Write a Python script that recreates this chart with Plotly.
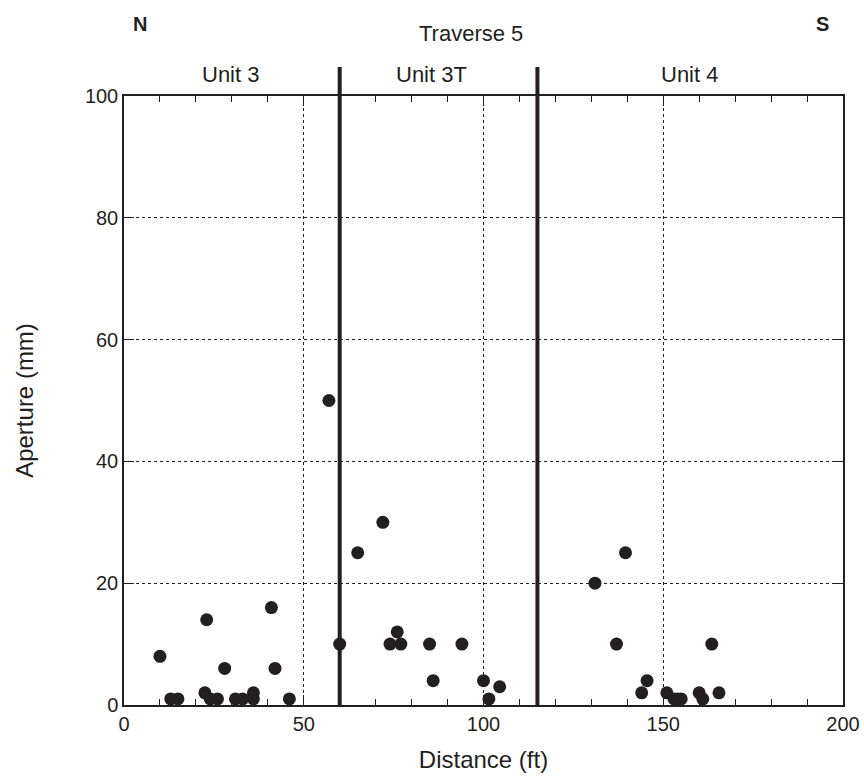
import plotly.graph_objects as go

# Distance along traverse (ft) and fracture aperture (mm)
distance_ft = [10, 13, 15, 22.5, 23, 24, 26, 28, 31, 33, 36, 36, 41, 42, 46, 57,
               60, 65, 72, 74, 76, 77, 85, 86, 94, 100, 101.5, 104.5,
               131, 137, 139.5, 144, 145.5, 151, 153, 154, 155, 160, 161, 163.5, 165.5]
aperture_mm = [8, 1, 1, 2, 14, 1, 1, 6, 1, 1, 2, 1, 16, 6, 1, 50,
               10, 25, 30, 10, 12, 10, 10, 4, 10, 4, 1, 3,
               20, 10, 25, 2, 4, 2, 1, 1, 1, 2, 1, 10, 2]

unit_boundaries_ft = [60, 115]
unit_labels = ["Unit 3", "Unit 3T", "Unit 4"]
unit_label_x = [29.5, 85.4, 157.4]

FONT = "Liberation Sans, Arial, sans-serif"
INK = "#231f20"

fig = go.Figure()
fig.add_trace(go.Scatter(
    x=distance_ft, y=aperture_mm, mode="markers",
    marker=dict(size=13, color=INK),
    showlegend=False, cliponaxis=False,
))

for xb in unit_boundaries_ft:
    fig.add_shape(type="line", xref="x", yref="paper", x0=xb, x1=xb, y0=0, y1=1.0476,
                  line=dict(color=INK, width=4))

annotations = []
for lab, lx in zip(unit_labels, unit_label_x):
    annotations.append(dict(x=lx, y=1.0345, xref="x", yref="paper", text=lab,
                            xanchor="center", yanchor="middle",
                            showarrow=False, font=dict(size=22, color=INK)))
annotations.append(dict(x=0.483, y=1.1034, xref="paper", yref="paper", text="Traverse 5",
                        xanchor="center", yanchor="middle",
                        showarrow=False, font=dict(size=22, color=INK)))
annotations.append(dict(x=4.4, y=1.118, xref="x", yref="paper", text="<b>N</b>",
                        xanchor="center", yanchor="middle",
                        showarrow=False, font=dict(size=20, color=INK)))
annotations.append(dict(x=194.4, y=1.118, xref="x", yref="paper", text="<b>S</b>",
                        xanchor="center", yanchor="middle",
                        showarrow=False, font=dict(size=20, color=INK)))

fig.update_layout(
    width=864, height=782,
    margin=dict(l=124, r=21, t=96, b=77, autoexpand=False),
    paper_bgcolor="white", plot_bgcolor="white",
    font=dict(family=FONT, size=20, color=INK),
    annotations=annotations,
)
fig.update_xaxes(
    range=[0, 200], dtick=50, tick0=0, automargin=False,
    ticks="inside", ticklen=10, tickcolor=INK, tickwidth=1,
    minor=dict(dtick=10, ticks="inside", ticklen=6, tickcolor=INK, showgrid=False),
    showline=True, linecolor=INK, linewidth=1.5, mirror="ticks",
    showgrid=True, gridcolor=INK, gridwidth=1, griddash="3px,3px",
    zeroline=False,
    title=dict(text="Distance (ft)", standoff=17),
)
fig.update_yaxes(
    range=[0, 100], dtick=20, tick0=0, automargin=False,
    ticks="inside", ticklen=10, tickcolor=INK, tickwidth=1,
    showline=True, linecolor=INK, linewidth=1.5, mirror="ticks",
    showgrid=True, gridcolor=INK, gridwidth=1, griddash="3px,3px",
    zeroline=False,
    title=dict(text="Aperture (mm)", standoff=44),
)

fig.write_html("out.html", config={"displayModeBar": False},
               post_script="document.body.style.margin='0';")
